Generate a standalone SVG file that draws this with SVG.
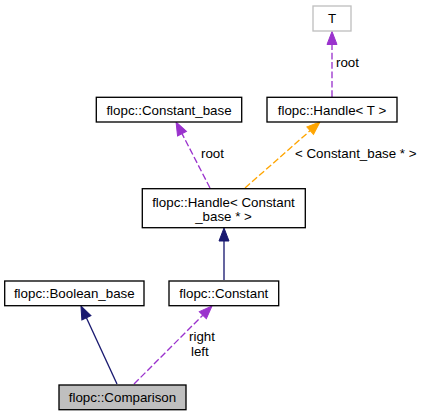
<svg xmlns="http://www.w3.org/2000/svg" width="421" height="416" viewBox="0 0 421 416">
<style>
  .box { fill: #ffffff; stroke: #000000; stroke-width: 1.33; }
  .gray { fill: #bfbfbf; }
  .tnode { fill: #ffffff; stroke: #bfbfbf; stroke-width: 1.33; }
  text { font-family: "Liberation Sans", Arial, sans-serif; font-size: 13.33px; fill: #000000; }
  .c { text-anchor: middle; }
  .purple { stroke: #9a32cd; stroke-width: 1.33; stroke-dasharray: 6.7,2.7; fill: none; }
  .orange { stroke: #ffa500; stroke-width: 1.33; stroke-dasharray: 6.7,2.7; fill: none; }
  .navy { stroke: #191970; stroke-width: 1.33; fill: none; }
</style>
<defs>
  <marker id="aPurple" markerUnits="userSpaceOnUse" markerWidth="14" markerHeight="12" refX="0" refY="5" orient="auto" overflow="visible">
    <path d="M0,0 L13,5 L0,10 z" fill="#9a32cd" stroke="#9a32cd" stroke-width="1"/>
  </marker>
  <marker id="aOrange" markerUnits="userSpaceOnUse" markerWidth="14" markerHeight="12" refX="0" refY="5" orient="auto" overflow="visible">
    <path d="M0,0 L13,5 L0,10 z" fill="#ffa500" stroke="#ffa500" stroke-width="1"/>
  </marker>
  <marker id="aNavy" markerUnits="userSpaceOnUse" markerWidth="14" markerHeight="12" refX="0" refY="5" orient="auto" overflow="visible">
    <path d="M0,0 L13,5 L0,10 z" fill="#191970" stroke="#191970" stroke-width="1"/>
  </marker>
</defs>
<g id="edges">
  <line class="purple" x1="332" y1="97" x2="332" y2="44.5" marker-end="url(#aPurple)"/>
  <text x="336" y="67">root</text>
  <line class="purple" x1="210" y1="188" x2="182" y2="133.6" marker-end="url(#aPurple)"/>
  <text x="201" y="158">root</text>
  <line class="orange" x1="245" y1="188" x2="310.2" y2="130.6" marker-end="url(#aOrange)"/>
  <text x="295" y="158">&lt; Constant_base * &gt;</text>
  <line class="navy" x1="224" y1="280" x2="224" y2="241" marker-end="url(#aNavy)"/>
  <line class="navy" x1="117" y1="384" x2="86.4" y2="317.8" marker-end="url(#aNavy)"/>
  <line class="purple" x1="134" y1="384" x2="202.8" y2="315.2" marker-end="url(#aPurple)"/>
  <text x="189" y="341">right</text>
  <text x="191" y="356">left</text>
</g>
<g id="node_T">
  <rect class="tnode" x="313" y="6" width="38" height="25"/>
  <text class="c" x="332" y="23">T</text>
</g>
<g id="node_HandleT">
  <rect class="box" x="267" y="97.3" width="130" height="24.7"/>
  <text class="c" x="332" y="114.5">flopc::Handle&lt; T &gt;</text>
</g>
<g id="node_ConstantBase">
  <rect class="box" x="96.3" y="97.3" width="145.4" height="24.7"/>
  <text class="c" x="169" y="114.5">flopc::Constant_base</text>
</g>
<g id="node_HandleConstantBase">
  <rect class="box" x="142.3" y="188.7" width="163" height="39"/>
  <text class="c" x="223.5" y="206.5">flopc::Handle&lt; Constant</text>
  <text class="c" x="223.5" y="220.5">_base * &gt;</text>
</g>
<g id="node_BooleanBase">
  <rect class="box" x="4.7" y="281" width="139.3" height="24.7"/>
  <text class="c" x="74.3" y="297.7">flopc::Boolean_base</text>
</g>
<g id="node_Constant">
  <rect class="box" x="169" y="281" width="109.7" height="24.7"/>
  <text class="c" x="223.8" y="297.7">flopc::Constant</text>
</g>
<g id="node_Comparison">
  <rect class="box gray" x="59" y="385" width="127" height="24.7"/>
  <text class="c" x="122.5" y="401.5">flopc::Comparison</text>
</g>
</svg>
